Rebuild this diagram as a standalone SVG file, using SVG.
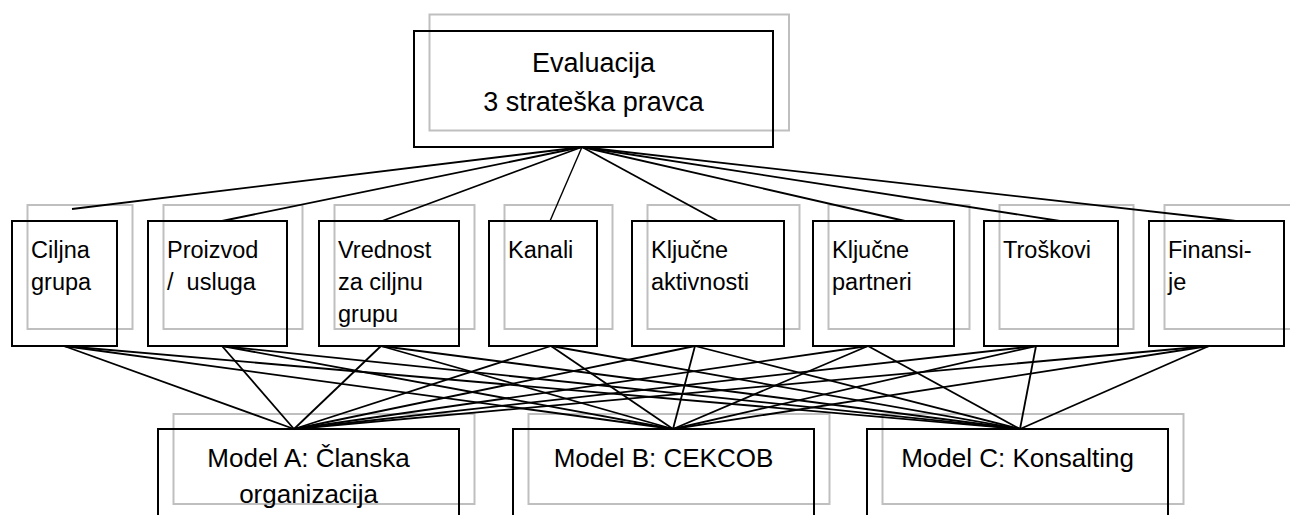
<svg xmlns="http://www.w3.org/2000/svg" width="1290" height="515" viewBox="0 0 1290 515">
<style>
.bk{fill:none;stroke:#000;stroke-width:2}
.gr{fill:none;stroke:#bfbfbf;stroke-width:2}
.t{font-family:"Liberation Sans",Arial,sans-serif;fill:#000}
.big{font-size:27px;text-anchor:middle}
.bot{font-size:26px;text-anchor:middle}
.mid{font-size:23.5px}
#connectors line{stroke:#000;stroke-width:1.8}
</style>
<rect width="1290" height="515" fill="#fff"/>
<g id="top">
<rect class="gr" x="429.5" y="14.5" width="359.5" height="116"/>
<rect class="bk" x="414" y="31" width="359" height="116"/>
<text class="t big" x="593.5" y="72">Evaluacija</text>
<text class="t big" x="593.5" y="110.5">3 strateška pravca</text>
</g>
<g id="n1">
<rect class="gr" x="27.5" y="205" width="105" height="124"/>
<rect class="bk" x="12" y="221" width="105" height="125"/>
<text class="t mid" x="31" y="258">Ciljna</text>
<text class="t mid" x="31" y="290">grupa</text>
</g>
<g id="n2">
<rect class="gr" x="163.5" y="205" width="139" height="124"/>
<rect class="bk" x="148" y="221" width="139" height="125"/>
<text class="t mid" x="167" y="258">Proizvod</text>
<text class="t mid" x="167" y="290">/&#160; usluga</text>
</g>
<g id="n3">
<rect class="gr" x="334.5" y="205" width="140" height="124"/>
<rect class="bk" x="319" y="221" width="140" height="125"/>
<text class="t mid" x="338" y="258">Vrednost</text>
<text class="t mid" x="338" y="290">za ciljnu</text>
<text class="t mid" x="338" y="322">grupu</text>
</g>
<g id="n4">
<rect class="gr" x="504.5" y="205" width="108" height="124"/>
<rect class="bk" x="489" y="221" width="108" height="125"/>
<text class="t mid" x="508" y="258">Kanali</text>
</g>
<g id="n5">
<rect class="gr" x="647.5" y="205" width="152" height="124"/>
<rect class="bk" x="632" y="221" width="152" height="125"/>
<text class="t mid" x="651" y="258">Ključne</text>
<text class="t mid" x="651" y="290">aktivnosti</text>
</g>
<g id="n6">
<rect class="gr" x="828.5" y="205" width="141" height="124"/>
<rect class="bk" x="813" y="221" width="141" height="125"/>
<text class="t mid" x="832" y="258">Ključne</text>
<text class="t mid" x="832" y="290">partneri</text>
</g>
<g id="n7">
<rect class="gr" x="999.5" y="205" width="134" height="124"/>
<rect class="bk" x="984" y="221" width="134" height="125"/>
<text class="t mid" x="1003" y="258">Troškovi</text>
</g>
<g id="n8">
<rect class="gr" x="1164.5" y="205" width="135" height="124"/>
<rect class="bk" x="1149" y="221" width="135" height="125"/>
<text class="t mid" x="1168" y="258">Finansi-</text>
<text class="t mid" x="1168" y="290">je</text>
</g>
<g id="mA">
<rect class="gr" x="173.5" y="414" width="301" height="90"/>
<rect class="bk" x="158" y="429" width="301" height="90"/>
<text class="t bot" x="308.5" y="467">Model A: Članska</text>
<text class="t bot" x="308.5" y="503">organizacija</text>
</g>
<g id="mB">
<rect class="gr" x="528.5" y="414" width="301" height="90"/>
<rect class="bk" x="513" y="429" width="301" height="90"/>
<text class="t bot" x="663.5" y="467">Model B: CEKCOB</text>
</g>
<g id="mC">
<rect class="gr" x="882.5" y="414" width="301" height="90"/>
<rect class="bk" x="867" y="429" width="301" height="90"/>
<text class="t bot" x="1017.5" y="467">Model C: Konsalting</text>
</g>
<g id="connectors">
<line x1="582" y1="147" x2="72" y2="209"/>
<line x1="582" y1="147" x2="222" y2="221"/>
<line x1="582" y1="147" x2="382" y2="221"/>
<line x1="582" y1="147" x2="550" y2="221" style="stroke-width:1.4"/>
<line x1="582" y1="147" x2="718" y2="221"/>
<line x1="582" y1="147" x2="905" y2="221"/>
<line x1="582" y1="147" x2="1060" y2="221"/>
<line x1="582" y1="147" x2="1236" y2="221"/>
<line x1="64" y1="346" x2="294" y2="429"/>
<line x1="64" y1="346" x2="673" y2="429"/>
<line x1="64" y1="346" x2="1020" y2="429"/>
<line x1="222" y1="346" x2="294" y2="429"/>
<line x1="222" y1="346" x2="673" y2="429"/>
<line x1="222" y1="346" x2="1020" y2="429"/>
<line x1="381" y1="346" x2="294" y2="429"/>
<line x1="381" y1="346" x2="673" y2="429"/>
<line x1="381" y1="346" x2="1020" y2="429"/>
<line x1="551" y1="346" x2="294" y2="429"/>
<line x1="551" y1="346" x2="673" y2="429"/>
<line x1="551" y1="346" x2="1020" y2="429"/>
<line x1="695" y1="346" x2="294" y2="429"/>
<line x1="695" y1="346" x2="673" y2="429"/>
<line x1="695" y1="346" x2="1020" y2="429"/>
<line x1="868" y1="346" x2="294" y2="429"/>
<line x1="868" y1="346" x2="673" y2="429"/>
<line x1="868" y1="346" x2="1020" y2="429"/>
<line x1="1036" y1="346" x2="294" y2="429"/>
<line x1="1036" y1="346" x2="673" y2="429"/>
<line x1="1036" y1="346" x2="1020" y2="429"/>
<line x1="1209" y1="346" x2="294" y2="429"/>
<line x1="1209" y1="346" x2="673" y2="429"/>
<line x1="1209" y1="346" x2="1020" y2="429"/>
</g>
</svg>
